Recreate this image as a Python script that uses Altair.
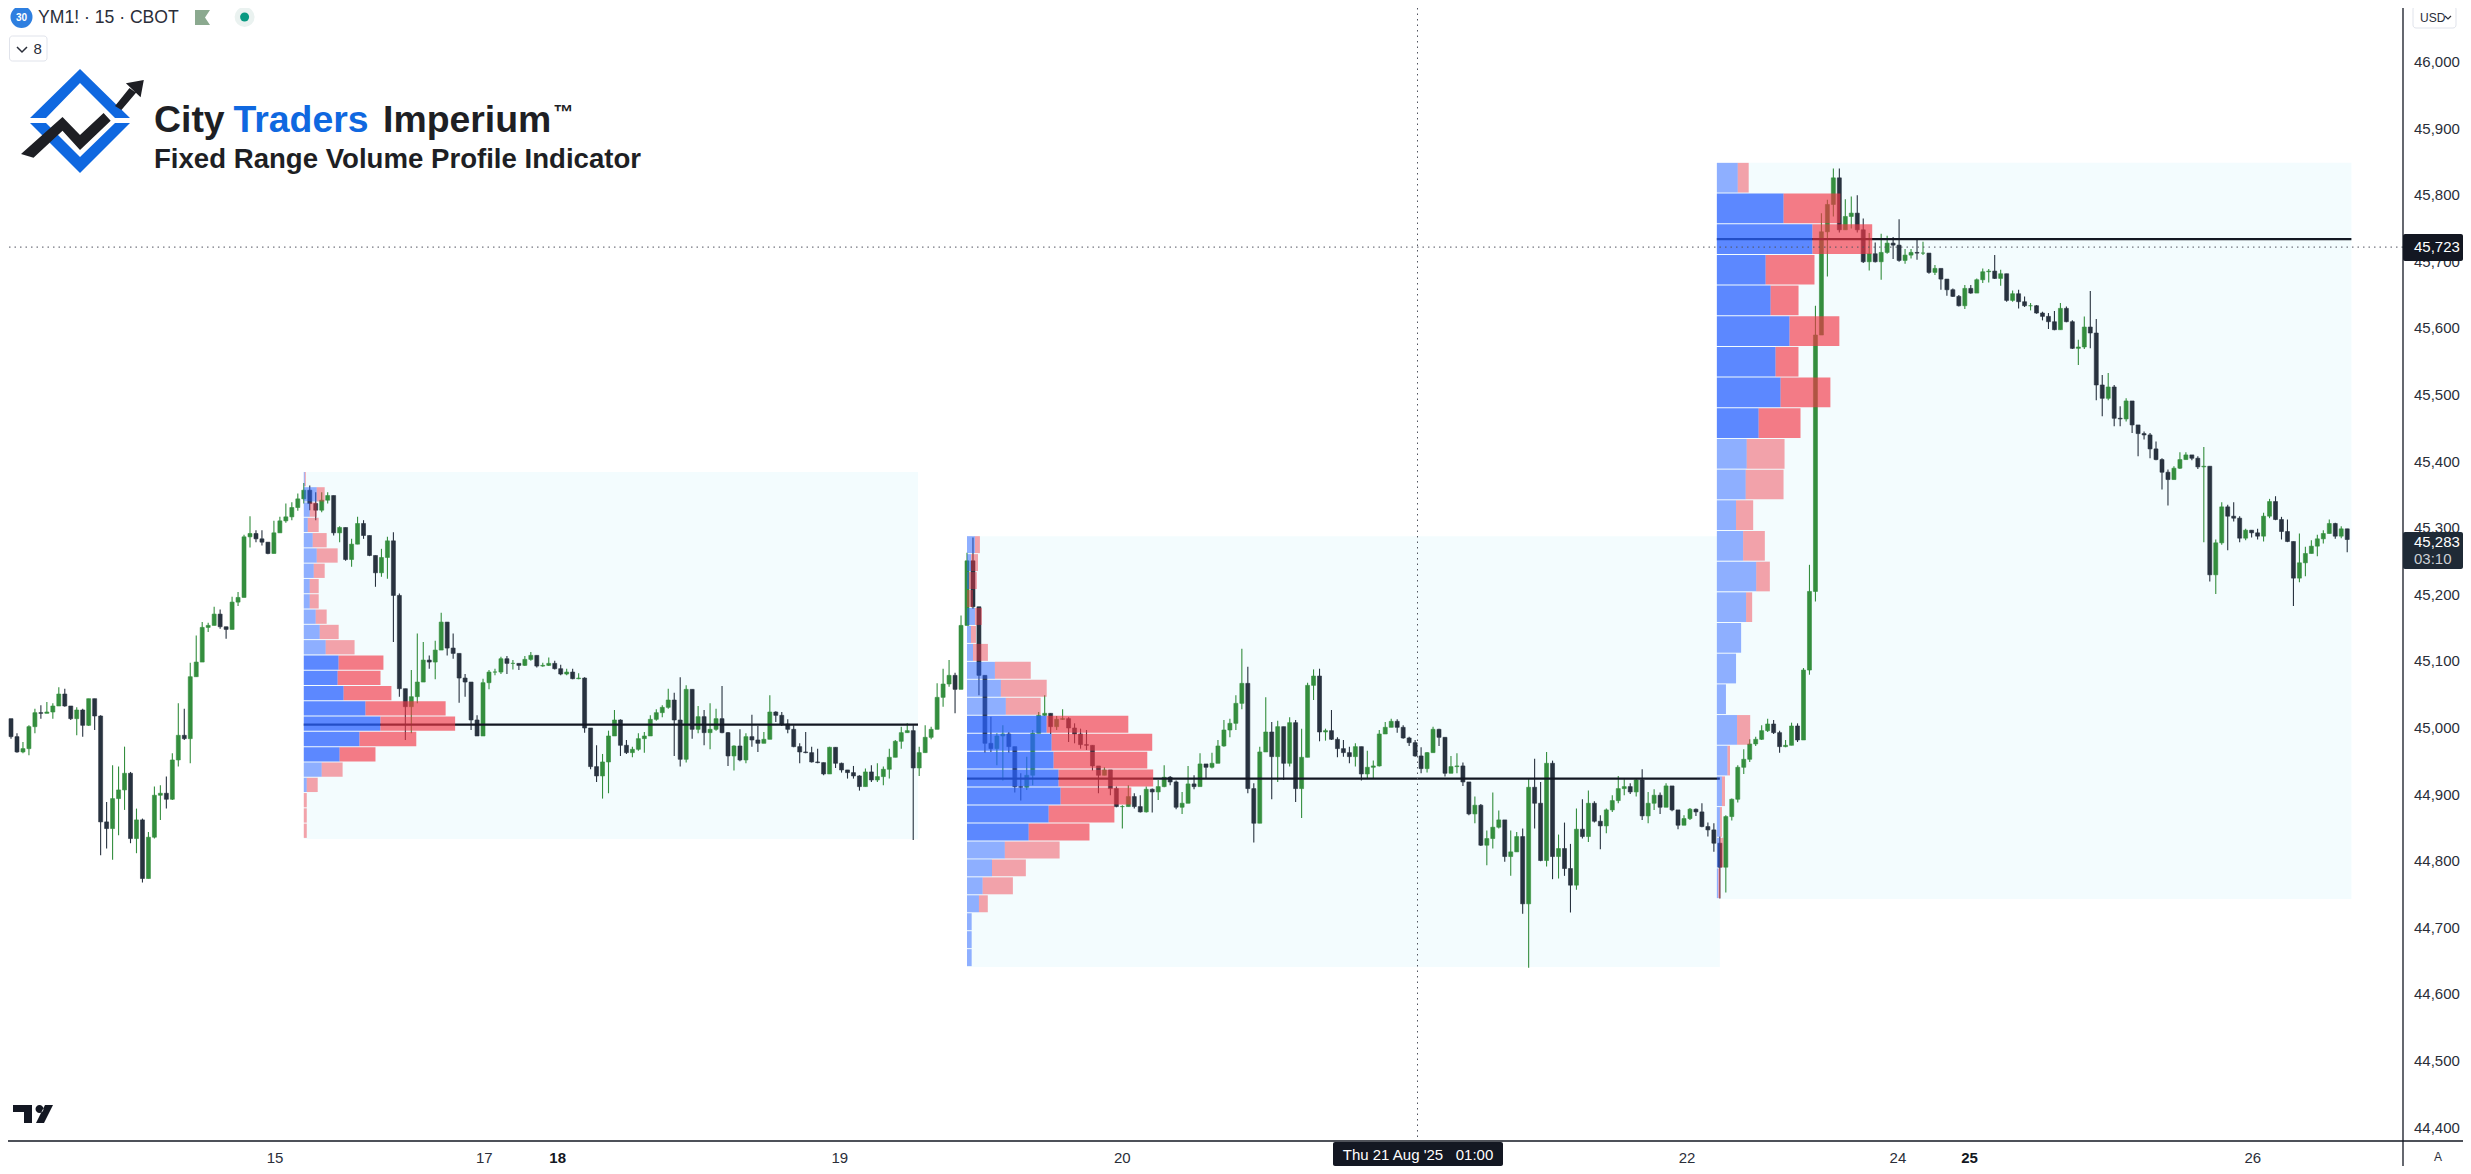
import pandas as pd
import altair as alt

close = [
    45014,44987,44964,44969,45002,45023,45022,45024,45033,45051,45033,45014,45027,45004,45044,45018,44859,44849,44894,44907,
    44932,44834,44862,44774,44836,44899,44902,44893,44952,44989,44984,45077,45099,45151,45154,45171,45152,45148,45189,45196,
    45287,45292,45284,45279,45262,45293,45311,45317,45331,45344,45357,45337,45327,45342,45349,45293,45301,45253,45276,45307,
    45289,45259,45233,45256,45281,45199,45059,45032,45047,45069,
    45102,45099,45117,45159,45120,45112,45075,45069,45012,44988,45068,45084,45084,45104,45097,45097,45094,45103,45109,45093,
    45094,45097,45089,45081,45084,45074,45075,45000,44942,44928,44949,44988,45012,44974,44963,44968,44984,44988,45013,45023,
    45031,45042,45012,44953,45058,44998,45017,44993,44998,45014,44993,44958,44973,44952,44987,44982,44977,44983,45024,45019,
    45006,44998,44972,44964,44963,44949,44948,44931,44971,44947,44937,44933,44928,44912,44934,44922,44927,44938,44956,44980,
    44993,44996,44940,44963,44986,44998,45046,
    45066,45079,45058,45154,45251,45182,45079,44977,44969,44988,44991,44972,44912,44911,44929,44992,45019,45022,45002,45013,
    45014,45000,44991,44975,44974,44943,44929,44937,44909,44882,44882,44897,44882,44874,44908,44904,44912,44926,44919,44881,
    44887,44916,44912,44946,44941,44947,44973,44997,45007,45037,45067,44909,44857,44964,44994,44957,45002,44947,45008,44909,
    44956,45064,45078,44994,44996,44983,44969,44963,44957,44972,44931,44941,44943,44991,
    45001,45010,45001,44985,44978,44958,44939,44963,44998,44986,44932,44942,44943,44919,44871,44884,44824,44834,44851,44862,
    44807,44814,44837,44736,44911,44887,44801,44947,44807,44819,44789,44764,44848,44837,44887,44860,44853,44877,44891,44909,
    44912,44904,44922,44868,44887,44899,44881,44913,44877,44854,44864,44878,44874,44852,44847,44827,44791,44867,44893,44941,
    44953,44976,44983,44996,45006,44993,44972,44974,45003,44982,
    45087,45205,45590,45745,45786,45826,45748,45768,45773,45748,45700,45712,45700,45714,45728,45725,45702,45710,45714,45713,
    45713,45684,45690,45674,45658,45648,45634,45660,45653,45673,45685,45686,45675,45682,45642,45652,45640,45634,45634,45623,
    45618,45610,45598,45630,45610,45570,45572,45602,
    45593,45515,45495,45512,45465,45464,45491,45455,45442,45440,45419,45403,45384,45373,45390,45403,45410,45405,45392,45393,
    45230,45278,45332,45318,45315,45285,45297,45293,45288,45318,45340,45313,45295,45280,45225,45248,45262,45273,45284,45292,
    45307,45288,45299,45283,
]
high = [
    45037,45014,44992,44979,45004,45029,45034,45039,45037,45061,45059,45033,45031,45029,45044,45041,45019,44889,44944,44942,
    44972,44934,44879,44864,44844,44912,44914,44927,44962,45037,45029,45098,45139,45159,45158,45182,45178,45152,45197,45204,
    45290,45318,45297,45297,45277,45311,45317,45337,45339,45352,45368,45364,45354,45354,45354,45349,45303,45301,45284,45317,
    45312,45289,45259,45269,45287,45294,45202,45059,45087,45142,
    45129,45109,45131,45173,45159,45142,45112,45081,45069,45019,45074,45087,45089,45107,45108,45102,45097,45108,45114,45109,
    45098,45106,45101,45095,45089,45089,45082,45076,44999,44974,44961,44996,45027,45013,44982,44972,44992,44994,45019,45028,
    45034,45059,45053,45076,45064,45052,45033,45027,45037,45029,45063,44994,44974,44998,44992,45020,45003,44994,45049,45025,
    45024,45013,45004,44977,44994,44972,44969,44948,44972,44969,44948,44937,44943,44929,44939,44944,44947,44942,44969,44982,
    45002,45007,45004,44972,45004,45002,45067,
    45089,45102,45083,45169,45263,45286,45179,45078,45017,44992,45004,44994,44972,44932,44957,44997,45024,45049,45019,45018,
    45028,45016,45007,44999,44997,44972,44937,44941,44936,44912,44884,44914,44902,44899,44912,44909,44922,44944,44928,44921,
    44904,44943,44929,44962,44944,44963,44982,45012,45014,45049,45119,45092,44917,44972,45046,45009,45011,45002,45016,45012,
    44999,45068,45088,45089,44999,45027,44986,44982,44972,44977,44969,44966,44951,44997,
    45009,45014,45013,45004,44987,44982,44971,44964,45002,44999,44983,44958,44962,44948,44919,44897,44886,44846,44903,44876,
    44859,44846,44844,44849,44924,44954,44919,44964,44951,44840,44858,44826,44879,44893,44906,44890,44869,44879,44899,44928,
    44923,44917,44924,44938,44904,44908,44903,44917,44911,44873,44869,44880,44879,44887,44858,44857,44837,44869,44894,44944,
    44968,44983,44987,45004,45014,45012,44996,44982,45008,45007,
    45090,45245,45634,45773,45793,45840,45840,45794,45798,45800,45765,45743,45729,45742,45739,45737,45764,45719,45719,45734,
    45730,45713,45695,45682,45674,45660,45650,45665,45665,45675,45690,45689,45710,45688,45675,45657,45658,45648,45638,45635,
    45625,45623,45626,45638,45633,45612,45583,45618,
    45656,45614,45530,45533,45515,45483,45495,45490,45455,45445,45443,45430,45405,45388,45393,45414,45414,45410,45408,45422,
    45373,45283,45339,45335,45339,45318,45299,45297,45299,45323,45344,45348,45317,45313,45280,45292,45272,45282,45290,45297,
    45313,45308,45303,45298,
]
low = [
    45004,44984,44963,44962,44959,44992,45014,45022,45014,45034,45032,45012,44989,44987,45003,44997,44809,44819,44802,44839,
    44877,44827,44812,44768,44789,44834,44862,44879,44892,44942,44982,44947,45077,45099,45144,45154,45149,45134,45148,45183,
    45196,45271,45279,45274,45261,45262,45293,45308,45312,45326,45337,45327,45312,45324,45337,45289,45279,45251,45242,45276,
    45284,45258,45212,45227,45224,45129,45047,44982,44992,45037,
    45069,45089,45073,45117,45109,45104,45038,45047,44997,44988,44988,45058,45079,45081,45081,45088,45087,45093,45101,45091,
    45092,45093,45088,45079,45079,45073,45073,44993,44938,44919,44894,44902,44988,44958,44961,44956,44966,44963,44998,45011,
    45016,45029,44958,44942,44948,44984,44992,44974,44968,44996,44992,44943,44936,44950,44947,44972,44964,44977,44989,45009,
    45003,44992,44971,44947,44962,44948,44947,44929,44933,44940,44933,44924,44924,44906,44913,44919,44919,44914,44924,44959,
    44969,44993,44832,44928,44966,44983,45000,
    45032,45062,45022,45109,45202,45179,45049,44963,44964,44944,44921,44963,44903,44891,44907,44914,44994,45018,44991,44997,
    45012,44979,44977,44969,44967,44936,44902,44929,44899,44881,44849,44882,44879,44873,44873,44873,44892,44911,44914,44878,
    44871,44887,44908,44927,44924,44939,44947,44972,44986,44997,45028,44902,44828,44864,44964,44893,44919,44922,44942,44889,
    44865,44964,45042,44980,44981,44982,44956,44957,44947,44942,44921,44924,44924,44942,
    44991,45002,44993,44984,44973,44957,44932,44933,44964,44973,44927,44933,44932,44913,44869,44857,44823,44794,44819,44849,
    44799,44778,44817,44721,44640,44849,44800,44792,44773,44774,44778,44723,44757,44834,44829,44858,44818,44842,44874,44887,
    44899,44901,44897,44862,44857,44877,44871,44882,44875,44848,44858,44862,44868,44851,44837,44814,44744,44753,44861,44888,
    44931,44949,44973,44982,44994,44991,44963,44971,44982,44979,
    45000,45080,45190,45682,45678,45768,45744,45748,45750,45744,45698,45687,45699,45673,45712,45704,45700,45697,45705,45703,
    45710,45682,45680,45658,45649,45647,45633,45629,45652,45654,45668,45669,45674,45664,45640,45640,45630,45632,45627,45622,
    45612,45599,45597,45623,45609,45569,45545,45569,
    45570,45492,45468,45492,45453,45453,45460,45443,45408,45433,45405,45402,45358,45334,45373,45389,45403,45402,45389,45279,
    45220,45201,45275,45267,45310,45279,45282,45286,45283,45280,45315,45312,45283,45279,45183,45219,45228,45263,45258,45277,
    45292,45284,45285,45264,
]
first_open = 45025

# fixed range volume profiles: buy / sell per row, top row first
p1_buy = [.17,2.17,1.0,.67,1.5,2.17,1.67,1.0,1.0,2.0,2.67,3.67,5.83,5.67,6.67,10.33,12.83,9.33,6.0,3.0,.5,0,0,0]
p1_sell = [.17,1.33,1.17,1.83,2.33,3.5,1.83,1.5,1.5,1.83,3.17,4.83,7.5,7.17,8.0,13.41,12.5,9.5,6.0,3.5,1.83,.5,.5,.5]
p2_buy = [1.33,.67,.33,0,1.33,.67,1.0,4.67,5.67,6.5,13.33,14.17,14.5,15.33,15.67,13.67,10.33,6.33,4.18,2.62,2.0,.78,.78,.78]
p2_sell = [.83,1.17,1.33,1.0,1.17,.83,2.5,6.0,7.67,5.83,13.67,16.83,15.67,15.83,11.83,11.0,10.17,9.17,5.67,5.06,1.48,0,0,0]
p3_buy = [3.5,11.17,16.0,8.17,9.0,12.17,9.83,10.67,7.0,5.0,4.83,3.21,4.4,6.59,4.9,4.06,3.21,1.52,3.38,1.78,.85,.51,.5,.25]
p3_sell = [1.83,9.5,10.0,8.17,4.67,8.33,3.83,8.33,7.0,6.33,6.33,2.87,3.63,2.28,1.01,0,0,0,2.2,.42,.51,.34,.6,.34]

# start bar, end bar, top price, row height, poc price, buy, sell, first and last value area row
profiles = [
    (50.0, 152.8, 45384.5, 22.96, 45005, p1_buy, p1_sell, 12, 18),
    (161.0, 287.0, 45288.0, 26.96, 44924, p2_buy, p2_sell, 10, 16),
    (286.5, 392.7, 45848.5, 46.06, 45734, p3_buy, p3_sell, 1, 8),
]

price_ticks = list(range(44400, 46001, 100))
date_pos = [45.2, 80.2, 139.7, 187, 281.5, 316.8, 376.2]
date_labels = ["15", "17", "19", "20", "22", "24", "26"]
bold_pos = [92.5, 328.8]
bold_labels = ["18", "25"]

FONT = "Liberation Sans"
TEXT = "#131722"
GREEN = "#348E3E"
DARK = "#28323F"

opens = [first_open] + close[:-1]
bars = pd.DataFrame({"bar": range(len(close)), "o": opens, "c": close, "h": high, "l": low})
bars["hi"] = bars[["o", "c", "h"]].max(axis=1)
bars["lo"] = bars[["o", "c", "l"]].min(axis=1)
bars["up"] = (bars.c >= bars.o).map({True: "up", False: "down"})

boxes, pocs, rows = [], [], []
for start, end, top, step, poc, buy, sell, va0, va1 in profiles:
    boxes.append({"x": start, "x2": end, "y": top, "y2": top - step * len(buy)})
    pocs.append({"x": start, "x2": end, "y": poc})
    for n, (b, s) in enumerate(zip(buy, sell)):
        in_va = va0 <= n <= va1
        t = top - n * step
        bot = t - step + 1.5
        if b > 0:
            rows.append({"x": start, "x2": start + b, "y": t, "y2": bot, "col": "#2962FF", "op": .75 if in_va else .5})
        if s > 0:
            rows.append({"x": start + b, "x2": start + b + s, "y": t, "y2": bot, "col": "#F23645", "op": .65 if in_va else .45})
boxes = pd.DataFrame(boxes)
pocs = pd.DataFrame(pocs)
rows = pd.DataFrame(rows)
prices = pd.DataFrame({"p": price_ticks, "t": [f"{p:,}" for p in price_ticks]})

# 6 px per sampled bar, page margin is 8 px
x_scale = alt.Scale(domain=[8 / 6, 2403 / 6], nice=False, zero=False)
y_scale = alt.Scale(domain=[44379.9, 46081], nice=False, zero=False)
X = lambda f: alt.X(f, type="quantitative", scale=x_scale, axis=None)
Y = lambda f: alt.Y(f, type="quantitative", scale=y_scale, axis=None)
updown = alt.Scale(domain=["up", "down"], range=[GREEN, DARK])

shade = alt.Chart(boxes).mark_rect(color="#F3FCFE").encode(x=X("x"), x2="x2:Q", y=Y("y"), y2="y2:Q")
wicks = alt.Chart(bars).mark_rule(strokeWidth=1.1, clip=True).encode(
    x=X("bar"), y=Y("lo"), y2="hi:Q",
    color=alt.Color("up:N", scale=updown, legend=None),
)
bodies = alt.Chart(bars).mark_bar(size=4, clip=True, strokeWidth=.6).encode(
    x=X("bar"), y=Y("o"), y2="c:Q",
    color=alt.Color("up:N", scale=updown, legend=None),
    stroke=alt.Stroke("up:N", scale=updown, legend=None),
)
poc_lines = alt.Chart(pocs).mark_rule(color="#131722", strokeWidth=2.2).encode(x=X("x"), x2="x2:Q", y=Y("y"))
profile_rows = alt.Chart(rows).mark_rect().encode(
    x=X("x"), x2="x2:Q", y=Y("y"), y2="y2:Q",
    color=alt.Color("col:N", scale=None),
    opacity=alt.Opacity("op:Q", scale=None),
)

cross_v = alt.Chart(pd.DataFrame({"x": [236.4]})).mark_rule(color="#50535E", strokeWidth=1, strokeDash=[1.5, 4]).encode(x=X("x"))
cross_h = alt.Chart(pd.DataFrame({"y": [45722]})).mark_rule(color="#50535E", strokeWidth=1, strokeDash=[1.5, 4]).encode(y=Y("y"))

price_labels = alt.Chart(prices).mark_text(
    font=FONT, fontSize=15, color="#2A2E39", align="left", baseline="middle"
).encode(x=alt.value(2406), y=Y("p"), text="t:N")
dates = alt.Chart(pd.DataFrame({"x": date_pos, "t": date_labels})).mark_text(
    font=FONT, fontSize=15, color="#2A2E39", baseline="middle").encode(x=X("x"), y=alt.value(1150), text="t:N")
dates_bold = alt.Chart(pd.DataFrame({"x": bold_pos, "t": bold_labels})).mark_text(
    font=FONT, fontSize=15, color="#131722", fontWeight="bold", baseline="middle").encode(x=X("x"), y=alt.value(1150), text="t:N")


def label(text, x, y, size=15, color=TEXT, weight="normal", align="left", baseline="middle"):
    return alt.Chart(pd.DataFrame({"t": [text]})).mark_text(
        font=FONT, fontSize=size, color=color, fontWeight=weight, align=align, baseline=baseline
    ).encode(x=alt.value(x - 8), y=alt.value(y - 8), text="t:N")


def icon(path, color, filled=True, width=1.5):
    # size=4 makes one unit of the path one pixel
    return alt.Chart(pd.DataFrame({"a": [0]})).mark_point(
        shape=path, size=4, filled=filled, color=color, opacity=1, strokeWidth=0 if filled else width
    ).encode(x=alt.value(-8), y=alt.value(-8))


def box(x, x2, y, y2, color, stroke=None, radius=2):
    opts = {"stroke": stroke, "strokeWidth": 1} if stroke else {}
    return alt.Chart(pd.DataFrame({"a": [0]})).mark_rect(color=color, cornerRadius=radius, **opts).encode(
        x=alt.value(x - 8), x2=alt.value(x2 - 8), y=alt.value(y - 8), y2=alt.value(y2 - 8))


def dot(x, y, r, color):
    return alt.Chart(pd.DataFrame({"a": [0]})).mark_point(
        shape="circle", size=(2 * r) ** 2, filled=True, color=color, opacity=1
    ).encode(x=alt.value(x - 8), y=alt.value(y - 8))


frame_v = alt.Chart(pd.DataFrame({"a": [0]})).mark_rule(color=TEXT, strokeWidth=1.3).encode(
    x=alt.value(2395), y=alt.value(0), y2=alt.value(1158))
frame_h = alt.Chart(pd.DataFrame({"a": [0]})).mark_rule(color=TEXT, strokeWidth=1.3).encode(
    x=alt.value(0), x2=alt.value(2455), y=alt.value(1133))

BLUE = "#0F68E0"
logo = [
    icon("M30 118L80 69L130 118H115L80 83L46 118ZM30 123H46L80 157L115 123H130L80 173Z", BLUE),
    icon("M21 154L62.5 117L80 135L103.6 113L110.7 120.7L80 150L62.5 130.7L33.5 157.7Z"
         "M115 106L129.5 88L136 92.7L121.4 110Z"
         "M143.8 80L125.9 83.3L140.6 97.3Z", "#1E1F24"),
    label("City", 154, 131.5, 37.4, "#1E1F24", "bold", baseline="alphabetic"),
    label("Traders", 233.5, 131.5, 37.4, BLUE, "bold", baseline="alphabetic"),
    label("Imperium", 383, 131.5, 37.4, "#1E1F24", "bold", baseline="alphabetic"),
    label("™", 553.5, 119, 20, "#1E1F24", "bold", baseline="alphabetic"),
    label("Fixed Range Volume Profile Indicator", 154, 167.5, 27.6, "#1E1F24", "bold", baseline="alphabetic"),
]
header = [
    dot(21.5, 17, 11, "#2E7FE0"),
    label("30", 21.5, 17.5, 10, "white", "bold", "center"),
    label("YM1! · 15 · CBOT", 38, 17.5, 17.6, "#2A2E39"),
    icon("M195 10H210L205 17.5L210 25H195Z", "#8BA98F"),
    dot(244.6, 17, 10, "#EAF2F0"),
    dot(244.6, 17, 4.5, "#089981"),
    box(9.5, 47, 36, 61, "white", "#E0E3EB", 3),
    icon("M17 47L22 52L27 47", "#2A2E39", False),
    label("8", 33.5, 48.5, 15, "#2A2E39"),
    box(2413, 2456, 6, 28, "white", "#E0E3EB", 3),
    label("USD", 2420, 17.5, 12, "#2A2E39"),
    icon("M2445 16L2448 19L2451 16", "#2A2E39", False, 1.2),
]
tags = [
    box(2403, 2463, 234, 261, "#131722"),
    label("45,723", 2414, 247, 15, "white"),
    box(2403, 2463, 532, 569, "#1F2A36"),
    label("45,283", 2414, 541.5, 15, "white"),
    label("03:10", 2414, 558.5, 15, "#CDD0D4"),
    box(1333, 1503, 1142, 1166, "#131722"),
    label("Thu 21 Aug '25\u00a0\u00a0\u00a001:00", 1418, 1155, 15, "white", align="center"),
    label("A", 2438, 1157, 12, "#2A2E39", align="center"),
    # tradingview mark
    icon("M13 1105H32V1123H24V1112H13ZM35.5 1109a4 4 0 1 0 8 0a4 4 0 1 0 -8 0ZM36 1123L45 1105H53L44 1123Z", "#131722"),
]

chart = alt.layer(
    shade, wicks, bodies, poc_lines, profile_rows, cross_v, cross_h, price_labels, dates, dates_bold,
    frame_v, frame_h, *logo, *header, *tags,
).properties(
    width=2395, height=1133,
    padding={"left": 0, "top": 0, "right": 60, "bottom": 25},
    autosize=alt.AutoSizeParams(type="none"),
    background="white",
).configure_view(strokeWidth=0)

chart.save("out.html", embed_options={"renderer": "svg", "actions": False})
